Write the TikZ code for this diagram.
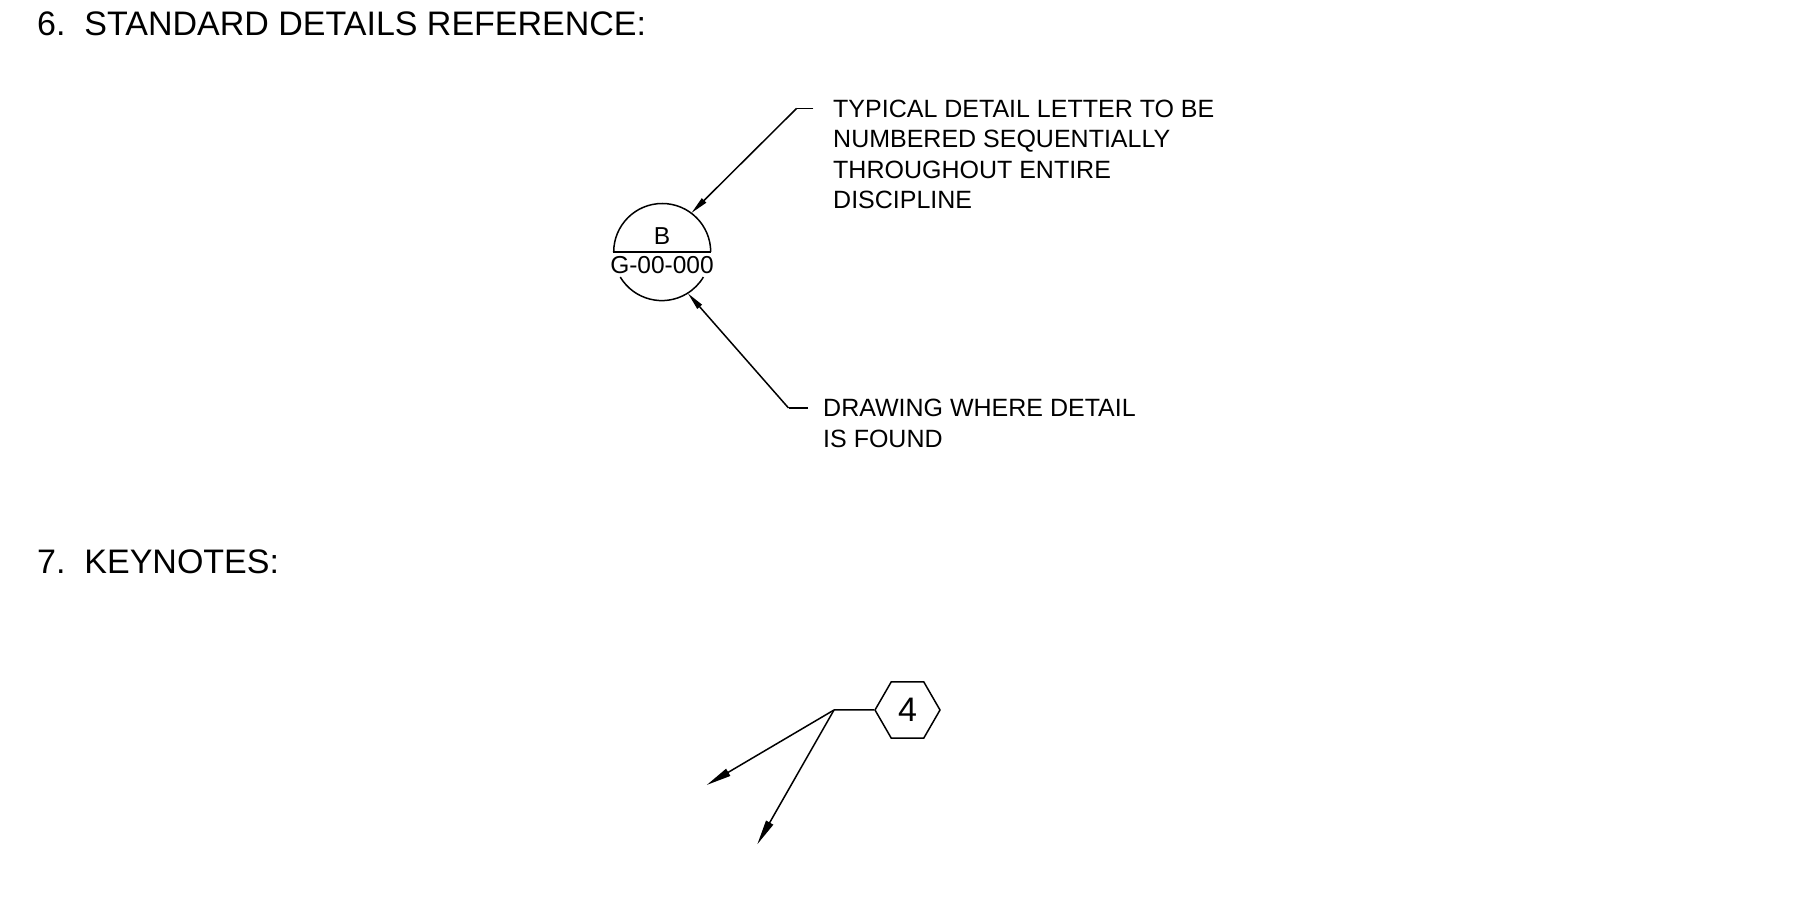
\documentclass[tikz,border=0pt]{standalone}
\usepackage{fontspec}
\setmainfont{Liberation Sans}
\usetikzlibrary{arrows.meta,shapes.geometric}
\begin{document}
\begin{tikzpicture}[x=1pt,y=1pt,
  ln/.style={line width=1.5pt,black},
  bigtxt/.style={inner sep=0pt,anchor=base west,font=\fontsize{34}{40}\selectfont},
  smalltxt/.style={inner sep=0pt,anchor=base west,font=\fontsize{25}{30}\selectfont},
  smarrow/.style={ln,-{Triangle[length=18pt,width=6pt]}},
  bigarrow/.style={ln,-{Triangle[length=25pt,width=8pt]}},
  hexbox/.style={regular polygon,regular polygon sides=6,minimum size=65pt,inner sep=0pt,draw,line width=1.5pt,font=\fontsize{34}{40}\selectfont}
]
\useasboundingbox (0,0) rectangle (1797,900);

% headings
\node[bigtxt] (h6) at (37,864) {6.\ \ STANDARD DETAILS REFERENCE:};
\node[bigtxt] (h7) at (37,326.7) {7.\ \ KEYNOTES:};

% detail reference bubble
\node[circle,minimum size=97pt,inner sep=0pt] (c) at (662,648) {};
\draw[ln] (c.west) -- (c.east);
\draw[ln] (c.east) arc[start angle=0,end angle=180,radius=48.5pt];
\draw[ln] (c.211) arc[start angle=211,end angle=329,radius=48.5pt];
\node[inner sep=0pt,anchor=base,font=\fontsize{24.5}{30}\selectfont] (lb) at (662,655.7) {B};
\node[inner sep=0pt,anchor=base,font=\fontsize{24.5}{30}\selectfont] (ls) at (662,626.7) {G-00-000};

% leader 1
\coordinate (k1) at (796.7,791.7);
\coordinate (e1) at (813.3,791.7);
\draw[ln] (e1) -- (k1);
\draw[smarrow] (k1) -- (c.53);
\node[smalltxt] (t1a) at (833,782.7) {TYPICAL DETAIL LETTER TO BE};
\node[smalltxt] (t1b) at (833,752.2) {NUMBERED SEQUENTIALLY};
\node[smalltxt] (t1c) at (833,721.7) {THROUGHOUT ENTIRE};
\node[smalltxt] (t1d) at (833,691.2) {DISCIPLINE};

% leader 2
\coordinate (k2) at (788.5,492);
\coordinate (e2) at (808,492);
\draw[ln] (e2) -- (k2);
\draw[smarrow] (k2) -- (c.-58);
\node[smalltxt] (t2a) at (823,483.2) {DRAWING WHERE DETAIL};
\node[smalltxt] (t2b) at (823,452.2) {IS FOUND};

% keynote
\node[hexbox] (hx) at (907.5,190) {4};
\coordinate (kn) at (834,190);
\coordinate (a1) at (706.7,115);
\coordinate (a2) at (757.3,55.7);
\draw[ln] (hx.west) -- (kn);
\draw[bigarrow] (kn) -- (a1);
\draw[bigarrow] (kn) -- (a2);
\end{tikzpicture}
\end{document}
